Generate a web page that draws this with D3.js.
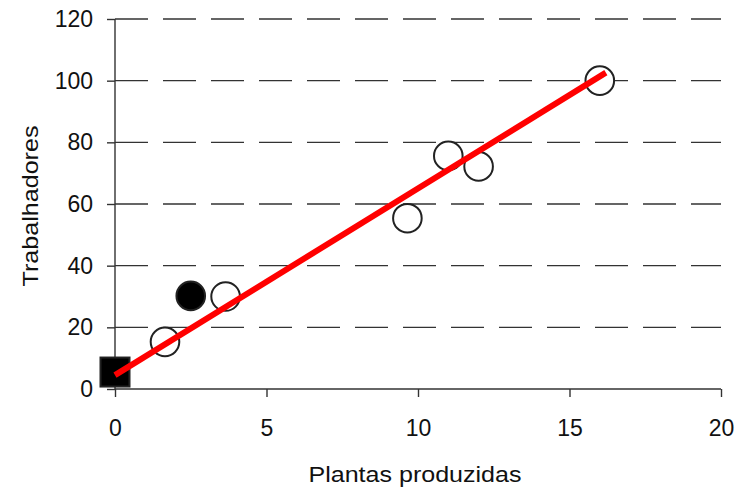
<!DOCTYPE html>
<html>
<head>
<meta charset="utf-8">
<script src="https://cdn.jsdelivr.net/npm/d3@7"></script>
<style>
  html, body { margin: 0; padding: 0; background: #fff; }
  text { font-family: "Liberation Sans", Arial, sans-serif; fill: #111; }
</style>
</head>
<body>
<svg id="chart" width="737" height="489"></svg>
<script>
// Data
const openX = [1.65, 3.65, 9.65, 11.0, 12.0, 16.0];
const openY = [15.3, 30.0, 55.4, 75.6, 72.2, 100.0];
const filledX = [2.5];
const filledY = [30.2];
const squareX = [0];
const squareY = [5.5];
const fitX = [0, 16.2];
const fitY = [4.5, 102.6];
const xTicks = [0, 5, 10, 15, 20];
const yTicks = [0, 20, 40, 60, 80, 100, 120];
const xTitle = "Plantas produzidas";
const yTitle = "Trabalhadores";

const svg = d3.select("#chart");
const x = d3.scaleLinear().domain([0, 20]).range([115, 721]);
const y = d3.scaleLinear().domain([0, 120]).range([389, 19]);

// gridlines (dashed)
svg.append("g").selectAll("line").data(yTicks.filter(d => d > 0)).join("line")
  .attr("x1", x(0)).attr("x2", x(20))
  .attr("y1", d => y(d)).attr("y2", d => y(d))
  .attr("stroke", "#333").attr("stroke-width", 1.4)
  .attr("stroke-dasharray", "33,15");

// axes
const xAxis = svg.append("g").attr("transform", `translate(0,${y(0)})`)
  .call(d3.axisBottom(x).tickValues(xTicks).tickSize(8).tickPadding(23).tickSizeOuter(0));
const yAxis = svg.append("g").attr("transform", `translate(${x(0)},0)`)
  .call(d3.axisLeft(y).tickValues(yTicks).tickSize(8).tickPadding(14).tickSizeOuter(0));
[xAxis, yAxis].forEach(g => {
  g.select(".domain").attr("stroke", "#333").attr("stroke-width", 1.4);
  g.selectAll(".tick line").attr("stroke", "#333").attr("stroke-width", 1.4);
  g.selectAll(".tick text").attr("font-size", 23).attr("font-family", "Liberation Sans, Arial, sans-serif").attr("fill", "#111");
});
xAxis.select(".domain").attr("d", `M${x(0)},0H${x(20)}`);
yAxis.select(".domain").attr("d", `M0,${y(0)}V${y(120)}`);

// open circles
svg.append("g").selectAll("circle").data(openX.map((d, i) => [d, openY[i]])).join("circle")
  .attr("cx", d => x(d[0])).attr("cy", d => y(d[1])).attr("r", 14.3)
  .attr("fill", "#fff").attr("stroke", "#222").attr("stroke-width", 2);
// filled circle
svg.append("g").selectAll("circle").data(filledX.map((d, i) => [d, filledY[i]])).join("circle")
  .attr("cx", d => x(d[0])).attr("cy", d => y(d[1])).attr("r", 14.3)
  .attr("fill", "#000").attr("stroke", "#222").attr("stroke-width", 2);
// square
svg.append("g").selectAll("rect").data(squareX.map((d, i) => [d, squareY[i]])).join("rect")
  .attr("x", d => x(d[0]) - 14.5).attr("y", d => y(d[1]) - 14.5)
  .attr("width", 29).attr("height", 29)
  .attr("fill", "#000").attr("stroke", "#222").attr("stroke-width", 2);

// fit line
svg.append("path").datum(fitX.map((d, i) => [d, fitY[i]]))
  .attr("d", d3.line().x(d => x(d[0])).y(d => y(d[1])))
  .attr("stroke", "#ff0000").attr("stroke-width", 6).attr("fill", "none");

// titles
svg.append("text").attr("x", 415).attr("y", 481.5).attr("text-anchor", "middle")
  .attr("font-size", 22).attr("textLength", 213).attr("lengthAdjust", "spacingAndGlyphs")
  .text(xTitle);
svg.append("text").attr("transform", "translate(38,206) rotate(-90)").attr("text-anchor", "middle")
  .attr("font-size", 22).attr("textLength", 161).attr("lengthAdjust", "spacingAndGlyphs")
  .text(yTitle);
</script>
</body>
</html>
